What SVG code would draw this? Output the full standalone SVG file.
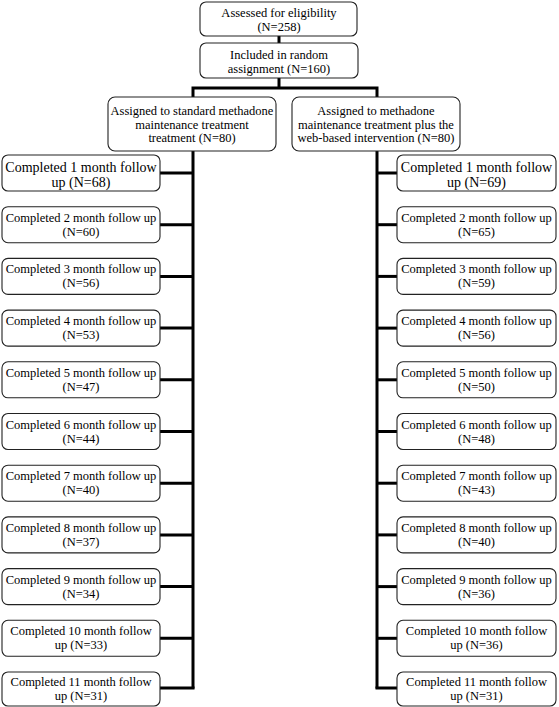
<svg xmlns="http://www.w3.org/2000/svg" width="559" height="707" viewBox="0 0 559 707">
<style>
.box{fill:#fff;stroke:#222;stroke-width:1.1}
.t{font-family:"Liberation Serif","Times New Roman",serif;font-size:12.5px;fill:#000;text-anchor:middle}
.big{font-size:14px}
.c{stroke:#000;stroke-width:3;fill:none}
</style>
<rect width="559" height="707" fill="#fff"/>
<g id="connectors">
<line class="c" x1="279" y1="35" x2="279" y2="44"/>
<polyline class="c" points="279,78 279,88"/>
<polyline class="c" points="193,98 193,88 377,88 377,98"/>
<polyline class="c" points="193,150 193,688.5"/>
<polyline class="c" points="377,150 377,688.5"/>
<line class="c" x1="160" y1="173" x2="193" y2="173"/>
<line class="c" x1="160" y1="224.7" x2="193" y2="224.7"/>
<line class="c" x1="160" y1="276.4" x2="193" y2="276.4"/>
<line class="c" x1="160" y1="328.1" x2="193" y2="328.1"/>
<line class="c" x1="160" y1="379.8" x2="193" y2="379.8"/>
<line class="c" x1="160" y1="431.5" x2="193" y2="431.5"/>
<line class="c" x1="160" y1="483.2" x2="193" y2="483.2"/>
<line class="c" x1="160" y1="534.9" x2="193" y2="534.9"/>
<line class="c" x1="160" y1="586.6" x2="193" y2="586.6"/>
<line class="c" x1="160" y1="638.3" x2="193" y2="638.3"/>
<line class="c" x1="160" y1="688" x2="194.5" y2="688"/>
<line class="c" x1="377" y1="173" x2="397" y2="173"/>
<line class="c" x1="377" y1="224.7" x2="397" y2="224.7"/>
<line class="c" x1="377" y1="276.4" x2="397" y2="276.4"/>
<line class="c" x1="377" y1="328.1" x2="397" y2="328.1"/>
<line class="c" x1="377" y1="379.8" x2="397" y2="379.8"/>
<line class="c" x1="377" y1="431.5" x2="397" y2="431.5"/>
<line class="c" x1="377" y1="483.2" x2="397" y2="483.2"/>
<line class="c" x1="377" y1="534.9" x2="397" y2="534.9"/>
<line class="c" x1="377" y1="586.6" x2="397" y2="586.6"/>
<line class="c" x1="377" y1="638.3" x2="397" y2="638.3"/>
<line class="c" x1="375.5" y1="688" x2="397" y2="688"/>
</g>
<g id="assessed"><rect class="box" x="200" y="2" width="157" height="34" rx="6"/><text class="t" x="279" y="17">Assessed for eligibility</text><text class="t" x="279" y="31">(N=258)</text></g>
<g id="included"><rect class="box" x="200" y="43" width="158" height="35" rx="6"/><text class="t" x="279" y="59">Included in random</text><text class="t" x="279" y="73">assignment (N=160)</text></g>
<g id="standard"><rect class="box" x="108" y="97" width="168" height="54" rx="7"/><text class="t" x="192" y="115">Assigned to standard methadone</text><text class="t" x="192" y="128.5">maintenance treatment</text><text class="t" x="192" y="142">treatment (N=80)</text></g>
<g id="web"><rect class="box" x="292" y="97" width="168" height="54" rx="7"/><text class="t" x="376" y="115">Assigned to methadone</text><text class="t" x="376" y="128.5">maintenance treatment plus the</text><text class="t" x="376" y="142">web-based intervention (N=80)</text></g>
<g id="L1"><rect class="box" x="2" y="155" width="158" height="36" rx="6"/><text class="t big" x="81" y="172">Completed 1 month follow</text><text class="t big" x="81" y="187">up (N=68)</text></g>
<g id="L2"><rect class="box" x="2" y="206.7" width="158" height="36" rx="6"/><text class="t" x="81" y="221.7">Completed 2 month follow up</text><text class="t" x="81" y="235.7">(N=60)</text></g>
<g id="L3"><rect class="box" x="2" y="258.4" width="158" height="36" rx="6"/><text class="t" x="81" y="273.4">Completed 3 month follow up</text><text class="t" x="81" y="287.4">(N=56)</text></g>
<g id="L4"><rect class="box" x="2" y="310.1" width="158" height="36" rx="6"/><text class="t" x="81" y="325.1">Completed 4 month follow up</text><text class="t" x="81" y="339.1">(N=53)</text></g>
<g id="L5"><rect class="box" x="2" y="361.8" width="158" height="36" rx="6"/><text class="t" x="81" y="376.8">Completed 5 month follow up</text><text class="t" x="81" y="390.8">(N=47)</text></g>
<g id="L6"><rect class="box" x="2" y="413.5" width="158" height="36" rx="6"/><text class="t" x="81" y="428.5">Completed 6 month follow up</text><text class="t" x="81" y="442.5">(N=44)</text></g>
<g id="L7"><rect class="box" x="2" y="465.2" width="158" height="36" rx="6"/><text class="t" x="81" y="480.2">Completed 7 month follow up</text><text class="t" x="81" y="494.2">(N=40)</text></g>
<g id="L8"><rect class="box" x="2" y="516.9" width="158" height="36" rx="6"/><text class="t" x="81" y="531.9">Completed 8 month follow up</text><text class="t" x="81" y="545.9">(N=37)</text></g>
<g id="L9"><rect class="box" x="2" y="568.6" width="158" height="36" rx="6"/><text class="t" x="81" y="583.6">Completed 9 month follow up</text><text class="t" x="81" y="597.6">(N=34)</text></g>
<g id="L10"><rect class="box" x="2" y="620.3" width="158" height="36" rx="6"/><text class="t" x="81" y="635.3">Completed 10 month follow</text><text class="t" x="81" y="649.3">up (N=33)</text></g>
<g id="L11"><rect class="box" x="2" y="672" width="158" height="34" rx="6"/><text class="t" x="81" y="686">Completed 11 month follow</text><text class="t" x="81" y="700">up (N=31)</text></g>
<g id="R1"><rect class="box" x="397" y="155" width="159" height="36" rx="6"/><text class="t big" x="476.5" y="172">Completed 1 month follow</text><text class="t big" x="476.5" y="187">up (N=69)</text></g>
<g id="R2"><rect class="box" x="397" y="206.7" width="159" height="36" rx="6"/><text class="t" x="476.5" y="221.7">Completed 2 month follow up</text><text class="t" x="476.5" y="235.7">(N=65)</text></g>
<g id="R3"><rect class="box" x="397" y="258.4" width="159" height="36" rx="6"/><text class="t" x="476.5" y="273.4">Completed 3 month follow up</text><text class="t" x="476.5" y="287.4">(N=59)</text></g>
<g id="R4"><rect class="box" x="397" y="310.1" width="159" height="36" rx="6"/><text class="t" x="476.5" y="325.1">Completed 4 month follow up</text><text class="t" x="476.5" y="339.1">(N=56)</text></g>
<g id="R5"><rect class="box" x="397" y="361.8" width="159" height="36" rx="6"/><text class="t" x="476.5" y="376.8">Completed 5 month follow up</text><text class="t" x="476.5" y="390.8">(N=50)</text></g>
<g id="R6"><rect class="box" x="397" y="413.5" width="159" height="36" rx="6"/><text class="t" x="476.5" y="428.5">Completed 6 month follow up</text><text class="t" x="476.5" y="442.5">(N=48)</text></g>
<g id="R7"><rect class="box" x="397" y="465.2" width="159" height="36" rx="6"/><text class="t" x="476.5" y="480.2">Completed 7 month follow up</text><text class="t" x="476.5" y="494.2">(N=43)</text></g>
<g id="R8"><rect class="box" x="397" y="516.9" width="159" height="36" rx="6"/><text class="t" x="476.5" y="531.9">Completed 8 month follow up</text><text class="t" x="476.5" y="545.9">(N=40)</text></g>
<g id="R9"><rect class="box" x="397" y="568.6" width="159" height="36" rx="6"/><text class="t" x="476.5" y="583.6">Completed 9 month follow up</text><text class="t" x="476.5" y="597.6">(N=36)</text></g>
<g id="R10"><rect class="box" x="397" y="620.3" width="159" height="36" rx="6"/><text class="t" x="476.5" y="635.3">Completed 10 month follow</text><text class="t" x="476.5" y="649.3">up (N=36)</text></g>
<g id="R11"><rect class="box" x="397" y="672" width="159" height="34" rx="6"/><text class="t" x="476.5" y="686">Completed 11 month follow</text><text class="t" x="476.5" y="700">up (N=31)</text></g>
</svg>
